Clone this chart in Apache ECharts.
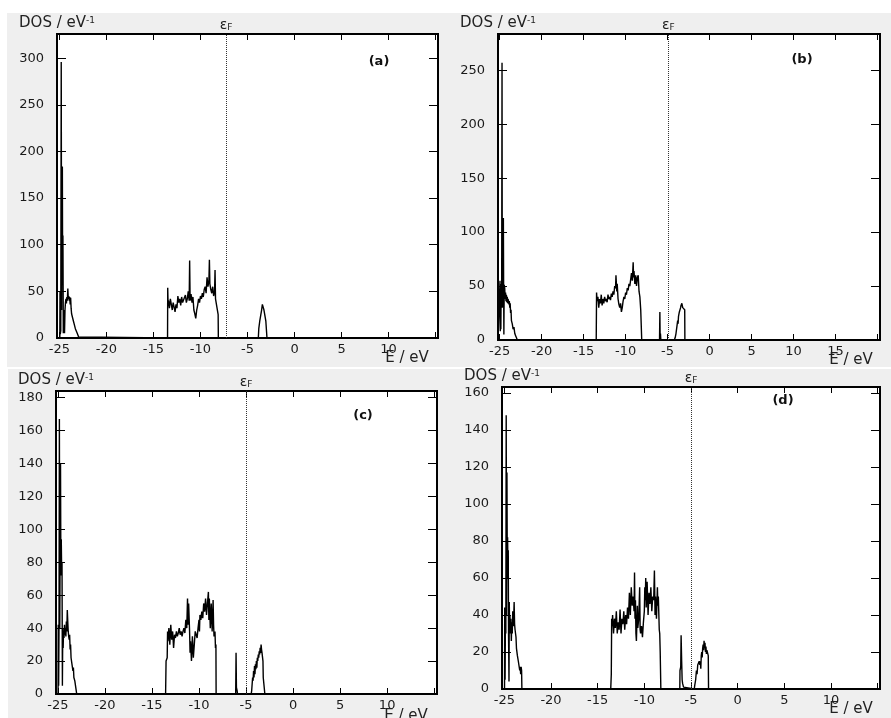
<!DOCTYPE html>
<html><head><meta charset="utf-8">
<script src="https://cdn.jsdelivr.net/npm/echarts@6/dist/echarts.min.js"></script>
<style>html,body{margin:0;padding:0;background:#fff}#c{width:891px;height:718px}</style>
</head><body><div id="c"></div>
<script>
// ---- data: [energy (eV), DOS (1/eV)] ----
const dosA = [
[-25.25,0],[-24.95,0],[-24.93,50],[-24.9,4],[-24.85,8],[-24.8,296],[-24.76,30],[-24.72,150],[-24.68,184],[-24.65,62],[-24.62,110],[-24.58,5],[-24.54,22],[-24.5,30],[-24.45,5],[-24.4,30],[-24.35,38],[-24.3,42],[-24.25,37],[-24.2,44],[-24.15,40],[-24.1,53],[-24.05,42],[-24.0,45],[-23.95,40],[-23.9,44],[-23.85,36],[-23.8,43],[-23.75,32],[-23.7,26],[-23.6,22],[-23.5,18],[-23.4,14],[-23.3,10],[-23.2,8],[-23.1,5],[-23.0,3],[-22.95,1],[-22.9,0],
[-13.5,0],[-13.48,54],[-13.44,35],[-13.4,40],[-13.3,32],[-13.2,42],[-13.1,36],[-13.0,30],[-12.9,38],[-12.8,33],[-12.7,28],[-12.6,36],[-12.5,32],[-12.4,45],[-12.3,38],[-12.2,42],[-12.1,35],[-12.0,44],[-11.9,38],[-11.8,40],[-11.7,36],[-11.6,46],[-11.5,38],[-11.4,42],[-11.3,50],[-11.2,40],[-11.15,83],[-11.1,40],[-11.0,47],[-10.9,38],[-10.8,44],[-10.7,30],[-10.6,26],[-10.5,21],[-10.4,30],[-10.3,35],[-10.2,42],[-10.1,38],[-10.0,45],[-9.9,42],[-9.8,48],[-9.7,44],[-9.6,52],[-9.5,55],[-9.4,48],[-9.3,65],[-9.2,55],[-9.1,62],[-9.05,84],[-9.0,58],[-8.9,52],[-8.8,48],[-8.7,55],[-8.6,45],[-8.5,50],[-8.45,73],[-8.4,42],[-8.3,40],[-8.2,30],[-8.12,25],[-8.1,0],
[-3.85,0],[-3.8,10],[-3.7,18],[-3.6,24],[-3.5,30],[-3.42,36],[-3.37,38],[-3.32,34],[-3.25,30],[-3.15,24],[-3.05,18],[-2.95,17],[-2.93,0],[15.25,0]];

const dosB = [
[-25.2,0],[-24.98,0],[-24.96,55],[-24.93,8],[-24.9,52],[-24.86,10],[-24.82,50],[-24.76,52],[-24.72,257],[-24.69,30],[-24.65,51],[-24.6,48],[-24.56,113],[-24.53,50],[-24.5,5],[-24.46,51],[-24.4,48],[-24.35,38],[-24.3,44],[-24.25,36],[-24.2,42],[-24.15,35],[-24.1,40],[-24.05,34],[-24.0,38],[-23.95,36],[-23.9,33],[-23.85,36],[-23.8,30],[-23.75,34],[-23.7,25],[-23.65,28],[-23.6,18],[-23.5,15],[-23.4,10],[-23.3,12],[-23.2,6],[-23.1,4],[-23.0,2],[-22.9,0],
[-13.5,0],[-13.46,44],[-13.4,36],[-13.3,40],[-13.2,30],[-13.1,38],[-13.0,34],[-12.9,42],[-12.8,32],[-12.7,38],[-12.6,34],[-12.5,40],[-12.4,36],[-12.3,38],[-12.2,35],[-12.1,42],[-12.0,38],[-11.9,40],[-11.8,37],[-11.7,43],[-11.6,40],[-11.5,45],[-11.4,42],[-11.3,50],[-11.2,48],[-11.15,60],[-11.05,45],[-11.0,52],[-10.9,38],[-10.8,33],[-10.7,30],[-10.6,34],[-10.5,26],[-10.4,30],[-10.3,36],[-10.2,40],[-10.1,38],[-10.0,44],[-9.9,42],[-9.8,48],[-9.7,46],[-9.6,52],[-9.5,50],[-9.4,56],[-9.3,62],[-9.2,55],[-9.1,72],[-9.05,58],[-9.0,64],[-8.9,52],[-8.8,60],[-8.7,50],[-8.6,58],[-8.5,60],[-8.4,45],[-8.3,40],[-8.2,28],[-8.1,28],[-8.08,0],
[-5.96,0],[-5.92,26],[-5.89,2],[-5.85,6],[-5.8,0],
[-4.2,0],[-4.1,2],[-4.0,6],[-3.9,12],[-3.8,18],[-3.75,15],[-3.7,22],[-3.6,26],[-3.5,25],[-3.45,30],[-3.4,32],[-3.35,33],[-3.3,34],[-3.2,30],[-3.1,31],[-3.0,29],[-2.96,28],[-2.94,0],[20.3,0]];

const dosC = [
[-25.2,0],[-24.98,0],[-24.96,42],[-24.92,5],[-24.88,40],[-24.84,167],[-24.8,40],[-24.76,90],[-24.72,140],[-24.68,72],[-24.64,94],[-24.6,75],[-24.56,80],[-24.52,5],[-24.48,40],[-24.44,28],[-24.4,38],[-24.35,34],[-24.3,42],[-24.25,36],[-24.2,40],[-24.15,35],[-24.1,44],[-24.05,38],[-24.0,51],[-23.95,44],[-23.9,38],[-23.85,35],[-23.8,33],[-23.75,36],[-23.7,27],[-23.65,30],[-23.6,22],[-23.5,18],[-23.4,14],[-23.35,16],[-23.3,10],[-23.2,8],[-23.1,4],[-23.05,2],[-23.0,0],
[-13.55,0],[-13.5,20],[-13.38,22],[-13.34,38],[-13.3,32],[-13.2,40],[-13.1,30],[-13.0,42],[-12.9,33],[-12.8,38],[-12.7,28],[-12.6,36],[-12.5,34],[-12.4,38],[-12.3,35],[-12.2,37],[-12.1,40],[-12.0,36],[-11.9,38],[-11.8,35],[-11.7,38],[-11.6,40],[-11.5,37],[-11.4,45],[-11.3,40],[-11.22,58],[-11.15,42],[-11.1,55],[-11.0,38],[-10.95,25],[-10.9,32],[-10.8,20],[-10.75,28],[-10.7,35],[-10.6,22],[-10.5,30],[-10.4,38],[-10.3,36],[-10.2,34],[-10.1,40],[-10.0,45],[-9.95,38],[-9.9,48],[-9.8,45],[-9.7,50],[-9.6,46],[-9.5,55],[-9.4,50],[-9.3,58],[-9.2,48],[-9.1,55],[-9.0,62],[-8.95,45],[-8.9,58],[-8.8,40],[-8.7,55],[-8.6,38],[-8.5,57],[-8.45,42],[-8.4,35],[-8.3,38],[-8.25,28],[-8.2,30],[-8.18,0],
[-6.1,0],[-6.06,25],[-6.02,4],[-5.95,2],[-5.9,0],
[-4.45,0],[-4.4,2],[-4.3,10],[-4.25,8],[-4.2,14],[-4.15,10],[-4.1,17],[-4.05,12],[-4.0,18],[-3.95,15],[-3.9,20],[-3.85,16],[-3.8,22],[-3.75,20],[-3.7,24],[-3.65,22],[-3.6,26],[-3.55,24],[-3.5,28],[-3.45,25],[-3.4,30],[-3.35,27],[-3.3,25],[-3.25,26],[-3.2,20],[-3.17,10],[-3.1,10],[-3.05,10],[-3.0,0],[15.3,0]];

const dosD = [
[-25.25,0],[-24.98,0],[-24.96,44],[-24.92,5],[-24.88,40],[-24.84,30],[-24.8,148],[-24.76,40],[-24.72,117],[-24.68,60],[-24.65,82],[-24.62,68],[-24.58,75],[-24.55,30],[-24.5,4],[-24.47,47],[-24.44,35],[-24.4,40],[-24.35,30],[-24.3,38],[-24.25,26],[-24.2,36],[-24.15,30],[-24.1,42],[-24.05,34],[-24.0,38],[-23.95,47],[-23.9,35],[-23.85,32],[-23.8,30],[-23.75,28],[-23.7,22],[-23.6,18],[-23.5,15],[-23.4,14],[-23.35,10],[-23.3,12],[-23.25,8],[-23.2,12],[-23.15,10],[-23.12,0],
[-13.6,0],[-13.54,8],[-13.5,38],[-13.45,34],[-13.4,40],[-13.3,30],[-13.2,38],[-13.1,33],[-13.0,42],[-12.9,30],[-12.8,36],[-12.7,32],[-12.6,43],[-12.5,30],[-12.4,38],[-12.3,35],[-12.2,42],[-12.1,32],[-12.0,40],[-11.9,35],[-11.8,44],[-11.7,38],[-11.6,52],[-11.5,40],[-11.4,55],[-11.3,45],[-11.2,50],[-11.1,42],[-11.05,63],[-11.0,38],[-10.95,48],[-10.9,30],[-10.85,26],[-10.8,35],[-10.75,45],[-10.7,33],[-10.6,38],[-10.5,55],[-10.45,32],[-10.4,30],[-10.3,34],[-10.2,28],[-10.1,36],[-10.0,42],[-9.95,55],[-9.9,48],[-9.85,60],[-9.8,44],[-9.7,58],[-9.6,40],[-9.5,52],[-9.4,46],[-9.3,55],[-9.2,42],[-9.1,50],[-9.0,48],[-8.92,64],[-8.85,40],[-8.8,50],[-8.7,38],[-8.6,55],[-8.55,45],[-8.5,50],[-8.4,32],[-8.35,30],[-8.3,20],[-8.25,20],[-8.23,0],
[-6.2,0],[-6.18,10],[-6.1,12],[-6.06,29],[-6.0,15],[-5.95,5],[-5.9,3],[-5.8,1],[-5.7,0],
[-4.65,0],[-4.6,2],[-4.5,5],[-4.42,10],[-4.35,8],[-4.28,13],[-4.2,12],[-4.12,15],[-4.05,13],[-4.0,15],[-3.95,11],[-3.9,18],[-3.85,20],[-3.8,17],[-3.75,22],[-3.7,24],[-3.65,21],[-3.6,26],[-3.55,22],[-3.5,25],[-3.45,20],[-3.4,23],[-3.35,19],[-3.3,21],[-3.2,20],[-3.15,18],[-3.12,0],[15.25,0]];

const panelData = [dosA, dosB, dosC, dosD];
const panelLabels = ['(a)', '(b)', '(c)', '(d)'];
const fermiLevels = [-7.27, -4.92, -5.0, -5.0];
const xMins = [-25.25, -25.2, -25.2, -25.25];
const xMaxs = [15.25, 20.3, 15.3, 15.25];
const xLabelLast = [10, 15, 10, 10];
const yMaxs = [326, 283.6, 184, 163.2];
const yIntervals = [50, 50, 20, 20];

// ---- layout ----
const grids = [
  {left: 57, top: 34, width: 381, height: 304},
  {left: 498, top: 34, width: 382, height: 306},
  {left: 56, top: 391, width: 381, height: 303},
  {left: 502, top: 387, width: 378, height: 302}
];
const labelPos = [[379, 62], [802, 60], [363, 416], [783, 401]];
const eAxisPos = [[407, 358], [851, 360], [406, 716], [851, 709]];

const FONT = 'DejaVu Sans';
const TXT = '#1a1a1a';

const xAxes = [], yAxes = [], series = [], graphics = [];
graphics.push({type: 'rect', z: -100, shape: {x: 7, y: 13, width: 884, height: 354}, style: {fill: '#efefef'}});
graphics.push({type: 'rect', z: -100, shape: {x: 8, y: 369, width: 883, height: 349}, style: {fill: '#efefef'}});

grids.forEach((g, i) => {
  const last = xLabelLast[i], iv = yIntervals[i];
  const xBase = {
    gridIndex: i, type: 'value', min: xMins[i], max: xMaxs[i], splitNumber: 8,
    axisLine: {show: false, onZero: false}, splitLine: {show: false},
    axisTick: {inside: true, length: 6, lineStyle: {color: '#000', width: 1}}
  };
  xAxes.push(Object.assign({}, xBase, {
    position: 'bottom',
    axisLabel: {margin: 5, fontFamily: FONT, fontSize: 13, color: TXT,
      formatter: v => { const r = Math.round(v / 5) * 5; return (Math.abs(v - r) < 1e-6 && r <= last) ? String(r) : ''; }}
  }));
  xAxes.push(Object.assign({}, xBase, {position: 'top', axisLabel: {show: false}}));
  const yBase = {
    gridIndex: i, type: 'value', min: 0, max: yMaxs[i], interval: iv,
    axisLine: {show: false, onZero: false}, splitLine: {show: false},
    axisTick: {inside: true, length: 9, lineStyle: {color: '#000', width: 1}}
  };
  yAxes.push(Object.assign({}, yBase, {
    position: 'left',
    name: '{a|DOS / eV}{b|-1}', nameLocation: 'end', nameGap: 3,
    nameTextStyle: {rich: {
      a: {fontFamily: FONT, fontSize: 15, color: '#222'},
      b: {fontFamily: FONT, fontSize: 9, color: '#222', verticalAlign: 'top'}
    }},
    axisLabel: {margin: 13, fontFamily: FONT, fontSize: 13, color: TXT,
      formatter: v => (Math.abs(v / iv - Math.round(v / iv)) < 1e-6 ? String(v) : '')}
  }));
  yAxes.push(Object.assign({}, yBase, {position: 'right', axisLabel: {show: false}}));

  series.push({
    type: 'line', xAxisIndex: 2 * i, yAxisIndex: 2 * i,
    data: panelData[i], showSymbol: false, symbol: 'none',
    lineStyle: {color: '#000', width: 1.4}, silent: true,
    markLine: {
      silent: true, symbol: ['none', 'none'], animation: false,
      lineStyle: {type: 'dotted', color: '#333', width: 1},
      label: {show: true, position: 'end', distance: 2, formatter: '{e|ε}{f|F}',
        rich: {e: {fontFamily: FONT, fontSize: 14, color: '#222'},
               f: {fontFamily: FONT, fontSize: 9, color: '#222', verticalAlign: 'bottom'}}},
      data: [{xAxis: fermiLevels[i]}]
    }
  });

  graphics.push({type: 'text', z: 100, x: labelPos[i][0], y: labelPos[i][1],
    style: {text: panelLabels[i], font: 'bold 13px "DejaVu Sans"', fill: '#111', textAlign: 'center', textVerticalAlign: 'middle'}});
  graphics.push({type: 'text', z: 100, x: eAxisPos[i][0], y: eAxisPos[i][1],
    style: {text: 'E / eV', font: '15px "DejaVu Sans"', fill: '#222', textAlign: 'center', textVerticalAlign: 'middle'}});
});

const chart = echarts.init(document.getElementById('c'), null, {renderer: 'canvas'});
chart.setOption({
  backgroundColor: '#ffffff',
  animation: false,
  grid: grids.map(g => Object.assign({show: true, backgroundColor: '#ffffff', borderColor: '#000', borderWidth: 2, containLabel: false}, g)),
  xAxis: xAxes,
  yAxis: yAxes,
  series: series,
  graphic: graphics
});
</script>
</body></html>
